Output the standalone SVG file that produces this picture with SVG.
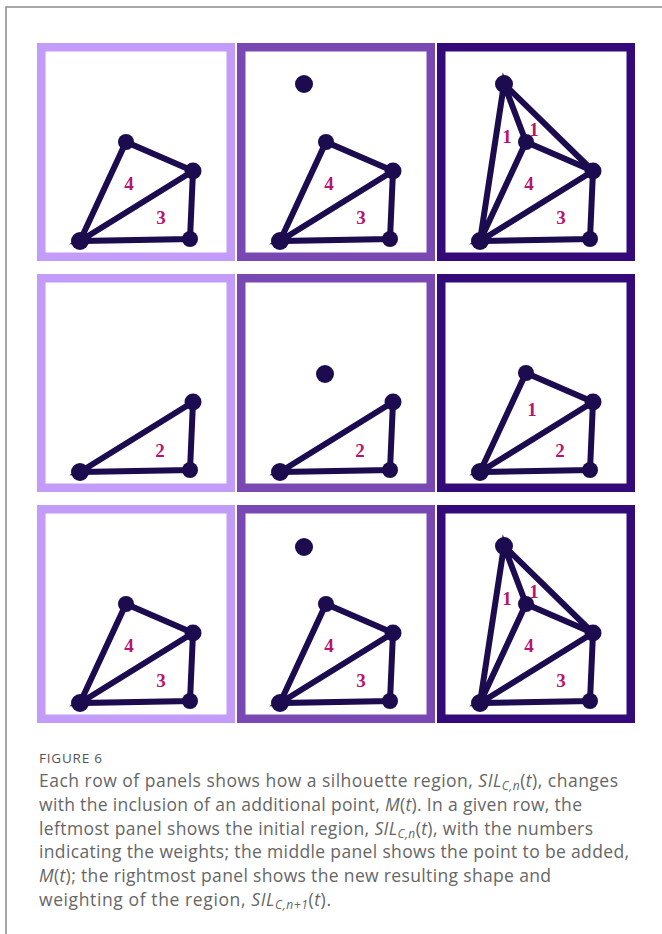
<svg xmlns="http://www.w3.org/2000/svg" width="662" height="934" viewBox="0 0 662 934">
<style>
.frame{fill:none;stroke-width:8.5}
.c1{stroke:#C39BF8}.c2{stroke:#7A48B2}.c3{stroke:#34097A}
.e{stroke:#1C0B4E;stroke-width:6;stroke-linecap:round;fill:none}
.n{fill:#1C0B4E}
.w{font-family:"Liberation Serif","DejaVu Serif",serif;font-weight:bold;font-size:19px;fill:#B5166F;text-anchor:middle}
.cap{font-family:"Open Sans","Noto Sans",sans-serif;font-size:17.5px;fill:#666}
.fig{font-family:"Open Sans","Noto Sans",sans-serif;font-size:13.5px;fill:#555}
.i{font-style:italic}
.s{font-size:12px;font-style:italic}
</style>
<rect width="662" height="934" fill="#fff"/>
<path d="M6 934V7H662" fill="none" stroke="#8a8a8a" stroke-width="1.5"/>

<!-- Row 1 -->
<g id="r1p1">
<rect class="frame c1" x="41.25" y="47.25" width="189.5" height="209.5"/>
<g class="e"><path d="M80 241L126 142L193 171L190 239L80 241L193 171"/></g>
<g id="r1p1-nodes" class="n"><circle cx="126" cy="142" r="8"/><circle cx="193" cy="171" r="8.5"/><circle cx="80" cy="241" r="9"/><circle cx="190" cy="239" r="8"/></g>
<text class="w" x="129" y="189.5">4</text><text class="w" x="161" y="224">3</text>
</g>
<g id="r1p2">
<rect class="frame c2" x="241.25" y="47.25" width="189.5" height="209.5"/>
<g class="e"><path d="M280 241L326 142L393 171L390 239L280 241L393 171"/></g>
<g id="r1p2-nodes" class="n"><circle cx="326" cy="142" r="8"/><circle cx="393" cy="171" r="8.5"/><circle cx="280" cy="241" r="9"/><circle cx="390" cy="239" r="8"/><circle id="r1-M" cx="304" cy="84" r="9"/></g>
<text class="w" x="329" y="189.5">4</text><text class="w" x="361" y="224">3</text>
</g>
<g id="r1p3">
<rect class="frame c3" x="441.25" y="47.25" width="189.5" height="209.5"/>
<g class="e"><path d="M480 241L526 142L593 171L590 239L480 241L593 171M480 241L504 84L526 142M504 84L593 171"/></g>
<g id="r1p3-nodes" class="n"><circle cx="526" cy="142" r="8"/><circle cx="593" cy="171" r="8.5"/><circle cx="480" cy="241" r="9"/><circle cx="590" cy="239" r="8"/><circle cx="504" cy="84" r="9"/></g>
<text class="w" x="529" y="189.5">4</text><text class="w" x="561" y="224">3</text><text class="w" x="507" y="142.5">1</text><text class="w" x="534" y="135.5">1</text>
</g>

<!-- Row 2 -->
<g id="r2p1">
<rect class="frame c1" x="41.25" y="278.25" width="189.5" height="209.5"/>
<g class="e"><path d="M80 472L190 470L193 402Z"/></g>
<g id="r2p1-nodes" class="n"><circle cx="193" cy="402" r="8.5"/><circle cx="80" cy="472" r="9"/><circle cx="190" cy="470" r="8"/></g>
<text class="w" x="160" y="456.5">2</text>
</g>
<g id="r2p2">
<rect class="frame c2" x="241.25" y="278.25" width="189.5" height="209.5"/>
<g class="e"><path d="M280 472L390 470L393 402Z"/></g>
<g id="r2p2-nodes" class="n"><circle cx="393" cy="402" r="8.5"/><circle cx="280" cy="472" r="9"/><circle cx="390" cy="470" r="8"/><circle id="r2-M" cx="325" cy="374" r="9"/></g>
<text class="w" x="360" y="456.5">2</text>
</g>
<g id="r2p3">
<rect class="frame c3" x="441.25" y="278.25" width="189.5" height="209.5"/>
<g class="e"><path d="M480 472L526 373L593 402L590 470L480 472L593 402"/></g>
<g id="r2p3-nodes" class="n"><circle cx="526" cy="373" r="8"/><circle cx="593" cy="402" r="8.5"/><circle cx="480" cy="472" r="9"/><circle cx="590" cy="470" r="8"/></g>
<text class="w" x="532" y="415.5">1</text><text class="w" x="560" y="456.5">2</text>
</g>

<!-- Row 3 -->
<g id="r3p1">
<rect class="frame c1" x="41.25" y="509.25" width="189.5" height="209.5"/>
<g class="e"><path d="M80 703L126 604L193 633L190 701L80 703L193 633"/></g>
<g id="r3p1-nodes" class="n"><circle cx="126" cy="604" r="8"/><circle cx="193" cy="633" r="8.5"/><circle cx="80" cy="703" r="9"/><circle cx="190" cy="701" r="8"/></g>
<text class="w" x="129" y="651.5">4</text><text class="w" x="161" y="686.5">3</text>
</g>
<g id="r3p2">
<rect class="frame c2" x="241.25" y="509.25" width="189.5" height="209.5"/>
<g class="e"><path d="M280 703L326 604L393 633L390 701L280 703L393 633"/></g>
<g id="r3p2-nodes" class="n"><circle cx="326" cy="604" r="8"/><circle cx="393" cy="633" r="8.5"/><circle cx="280" cy="703" r="9"/><circle cx="390" cy="701" r="8"/><circle id="r3-M" cx="304" cy="547" r="9"/></g>
<text class="w" x="329" y="651.5">4</text><text class="w" x="361" y="686.5">3</text>
</g>
<g id="r3p3">
<rect class="frame c3" x="441.25" y="509.25" width="189.5" height="209.5"/>
<g class="e"><path d="M480 703L526 604L593 633L590 701L480 703L593 633M480 703L504 546L526 604M504 546L593 633"/></g>
<g id="r3p3-nodes" class="n"><circle cx="526" cy="604" r="8"/><circle cx="593" cy="633" r="8.5"/><circle cx="480" cy="703" r="9"/><circle cx="590" cy="701" r="8"/><circle cx="504" cy="546" r="9"/></g>
<text class="w" x="529" y="651.5">4</text><text class="w" x="561" y="686.5">3</text><text class="w" x="507" y="604.5">1</text><text class="w" x="534" y="597.5">1</text>
</g>

<!-- Caption -->
<g id="caption">
<text class="fig" x="39" y="763" textLength="63" lengthAdjust="spacing">FIGURE 6</text>
<text class="cap" x="39" y="787" textLength="579" lengthAdjust="spacing">Each row of panels shows how a silhouette region, <tspan class="i">SIL</tspan><tspan class="s" dy="3">C,n</tspan><tspan dy="-3">(</tspan><tspan class="i">t</tspan>), changes</text>
<text class="cap" x="39" y="811" textLength="543" lengthAdjust="spacing">with the inclusion of an additional point, <tspan class="i">M</tspan>(<tspan class="i">t</tspan>). In a given row, the</text>
<text class="cap" x="39" y="834.5" textLength="554" lengthAdjust="spacing">leftmost panel shows the initial region, <tspan class="i">SIL</tspan><tspan class="s" dy="3">C,n</tspan><tspan dy="-3">(</tspan><tspan class="i">t</tspan>), with the numbers</text>
<text class="cap" x="39" y="858" textLength="590" lengthAdjust="spacing">indicating the weights; the middle panel shows the point to be added,</text>
<text class="cap" x="39" y="882" textLength="512" lengthAdjust="spacing"><tspan class="i">M</tspan>(<tspan class="i">t</tspan>); the rightmost panel shows the new resulting shape and</text>
<text class="cap" x="39" y="906" textLength="292" lengthAdjust="spacing">weighting of the region, <tspan class="i">SIL</tspan><tspan class="s" dy="3">C,n+1</tspan><tspan dy="-3">(</tspan><tspan class="i">t</tspan>).</text>
</g>
</svg>
